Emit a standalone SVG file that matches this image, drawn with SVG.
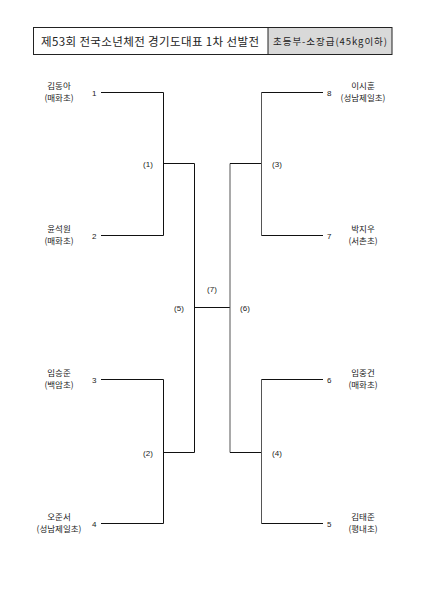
<svg xmlns="http://www.w3.org/2000/svg" width="424" height="600" viewBox="0 0 424 600">
<style>
.t{font-family:"Noto Sans CJK KR","Noto Sans",sans-serif;fill:#222}
.h{font-size:11.5px}
.h2{font-size:9.5px}
.n{font-size:8.5px;text-anchor:middle}
.s{font-size:8px;font-family:"Liberation Sans",sans-serif;fill:#222}
.m{font-size:8px;font-family:"Liberation Sans",sans-serif;fill:#222;text-anchor:middle}
.l{stroke:#111;stroke-width:1;fill:none}
.g{stroke:#555;stroke-width:1;fill:none}
</style>
<rect width="424" height="600" fill="#fff"/>
<g id="header">
<rect x="268" y="27.5" width="124" height="27" fill="#d9d9d9"/>
<rect x="33.5" y="27.5" width="358.5" height="27" fill="none" stroke="#222" stroke-width="1"/>
<line x1="268" y1="27.5" x2="268" y2="54.5" stroke="#222"/>
<text class="t h" x="150" y="45.5" text-anchor="middle" textLength="218">제53회 전국소년체전 경기도대표 1차 선발전</text>
<text class="t h2" x="330" y="45" text-anchor="middle" textLength="114">초등부-소장급(45kg이하)</text>
</g>
<g id="connectors">
<polyline class="l" points="101,92.5 163.5,92.5 163.5,235.5 101,235.5"/>
<polyline class="l" points="101,379.5 163.5,379.5 163.5,523.5 101,523.5"/>
<line class="l" x1="163.5" y1="163.5" x2="194.5" y2="163.5"/>
<line class="l" x1="163.5" y1="452.5" x2="194.5" y2="452.5"/>
<line class="l" x1="194.5" y1="163.5" x2="194.5" y2="452.5"/>
<line class="l" x1="194.5" y1="307.5" x2="230" y2="307.5"/>
<line class="g" x1="230" y1="163.5" x2="230" y2="452.5"/>
<line class="l" x1="230" y1="163.5" x2="261.5" y2="163.5"/>
<line class="l" x1="230" y1="452.5" x2="261.5" y2="452.5"/>
<polyline class="g" points="261.5,92.5 261.5,235.5"/>
<polyline class="g" points="261.5,379.5 261.5,523.5"/>
<line class="l" x1="261.5" y1="92.5" x2="323" y2="92.5"/>
<line class="l" x1="261.5" y1="235.5" x2="323" y2="235.5"/>
<line class="l" x1="261.5" y1="379.5" x2="323" y2="379.5"/>
<line class="l" x1="261.5" y1="523.5" x2="323" y2="523.5"/>
</g>
<g id="p1"><text class="t n" x="59" y="89">김동아</text><text class="t n" x="59" y="101">(매화초)</text><text class="s" x="92" y="95.5">1</text></g>
<g id="p2"><text class="t n" x="59" y="232">윤석원</text><text class="t n" x="59" y="244">(매화초)</text><text class="s" x="92" y="238.5">2</text></g>
<g id="p3"><text class="t n" x="59" y="376">임승준</text><text class="t n" x="59" y="388">(백암초)</text><text class="s" x="92" y="382.5">3</text></g>
<g id="p4"><text class="t n" x="59" y="520">오준서</text><text class="t n" x="59" y="532">(성남제일초)</text><text class="s" x="92" y="526.5">4</text></g>
<g id="p8"><text class="t n" x="363" y="89">이시훈</text><text class="t n" x="363" y="101">(성남제일초)</text><text class="s" x="327" y="95.5">8</text></g>
<g id="p7"><text class="t n" x="363" y="232">박지우</text><text class="t n" x="363" y="244">(서촌초)</text><text class="s" x="327" y="238.5">7</text></g>
<g id="p6"><text class="t n" x="363" y="376">임중건</text><text class="t n" x="363" y="388">(매화초)</text><text class="s" x="327" y="382.5">6</text></g>
<g id="p5"><text class="t n" x="363" y="520">김태준</text><text class="t n" x="363" y="532">(평내초)</text><text class="s" x="327" y="526.5">5</text></g>
<g id="m1"><text class="m" x="148" y="166.5">(1)</text></g>
<g id="m2"><text class="m" x="148" y="455.5">(2)</text></g>
<g id="m3"><text class="m" x="277" y="166.5">(3)</text></g>
<g id="m4"><text class="m" x="277" y="455.5">(4)</text></g>
<g id="m5"><text class="m" x="179" y="310.5">(5)</text></g>
<g id="m6"><text class="m" x="245" y="310.5">(6)</text></g>
<g id="m7"><text class="m" x="212" y="292">(7)</text></g>
</svg>
